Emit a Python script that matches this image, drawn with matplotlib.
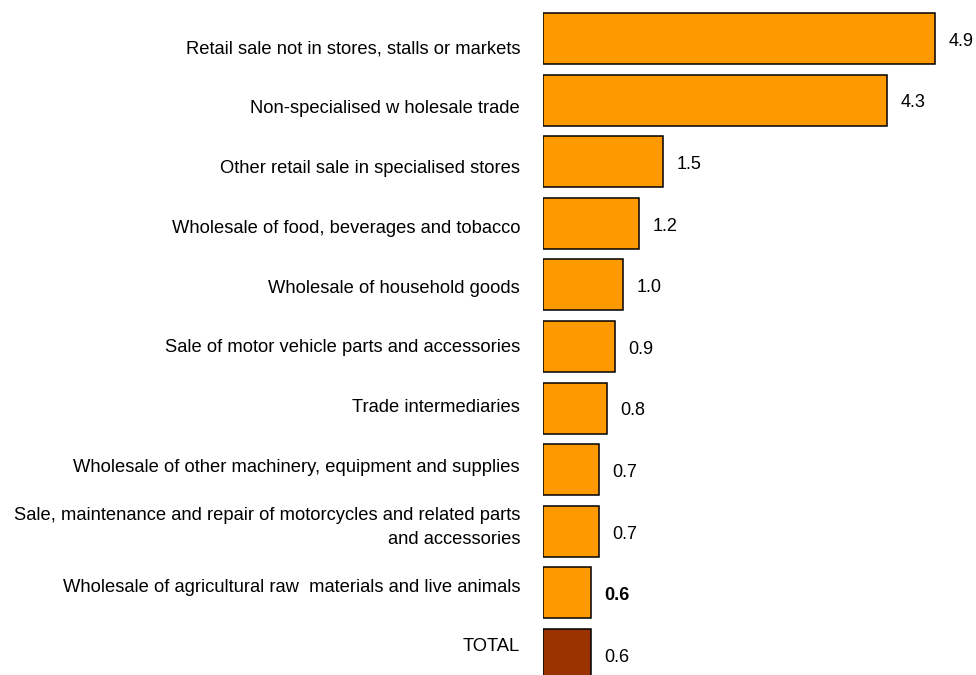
import numpy as np
import matplotlib.pyplot as plt

plt.rcParams['font.family'] = ['Liberation Sans', 'DejaVu Sans']

categories = [
    'Retail sale not in stores, stalls or markets',
    'Non-specialised w holesale trade',
    'Other retail sale in specialised stores',
    'Wholesale of food, beverages and tobacco',
    'Wholesale of household goods',
    'Sale of motor vehicle parts and accessories',
    'Trade intermediaries',
    'Wholesale of other machinery, equipment and supplies',
    'Sale, maintenance and repair of motorcycles and related parts\nand accessories',
    'Wholesale of agricultural raw  materials and live animals',
    'TOTAL',
]
values = [4.9, 4.3, 1.5, 1.2, 1.0, 0.9, 0.8, 0.7, 0.7, 0.6, 0.6]
value_labels = ['4.9', '4.3', '1.5', '1.2', '1.0', '0.9', '0.8', '0.7', '0.7', '0.6', '0.6']
bold_labels = [False] * 9 + [True, False]

orange = '#FF9900'
brown = '#993300'
colors = [orange] * 10 + [brown]

fig = plt.figure(figsize=(9.76, 6.75), dpi=100)
ax = fig.add_axes([543 / 976, 0, 433 / 976, 1])

y = np.arange(len(categories))
ax.barh(y, values, height=0.83, color=colors, edgecolor='black', linewidth=1.1)

ax.set_xlim(0, 5.406)
ax.set_ylim(10.333, -0.625)

# value labels right of each bar
for yi, v, lab, b in zip(y, values, value_labels, bold_labels):
    ax.annotate(lab, (v, yi), xytext=(9.5, -2), textcoords='offset points',
                ha='left', va='center', fontsize=13,
                fontweight='bold' if b else 'normal', clip_on=False)

# category labels on the left, spaced a little tighter than the bars
label_y = np.linspace(0.17, 9.878, len(categories))
for ly, name in zip(label_y, categories):
    ax.text(-23 / 80.1, ly, name, ha='right', va='center', fontsize=13.2,
            multialignment='right', linespacing=1.5, clip_on=False)

ax.axis('off')
fig.savefig('out.png', dpi=100)
